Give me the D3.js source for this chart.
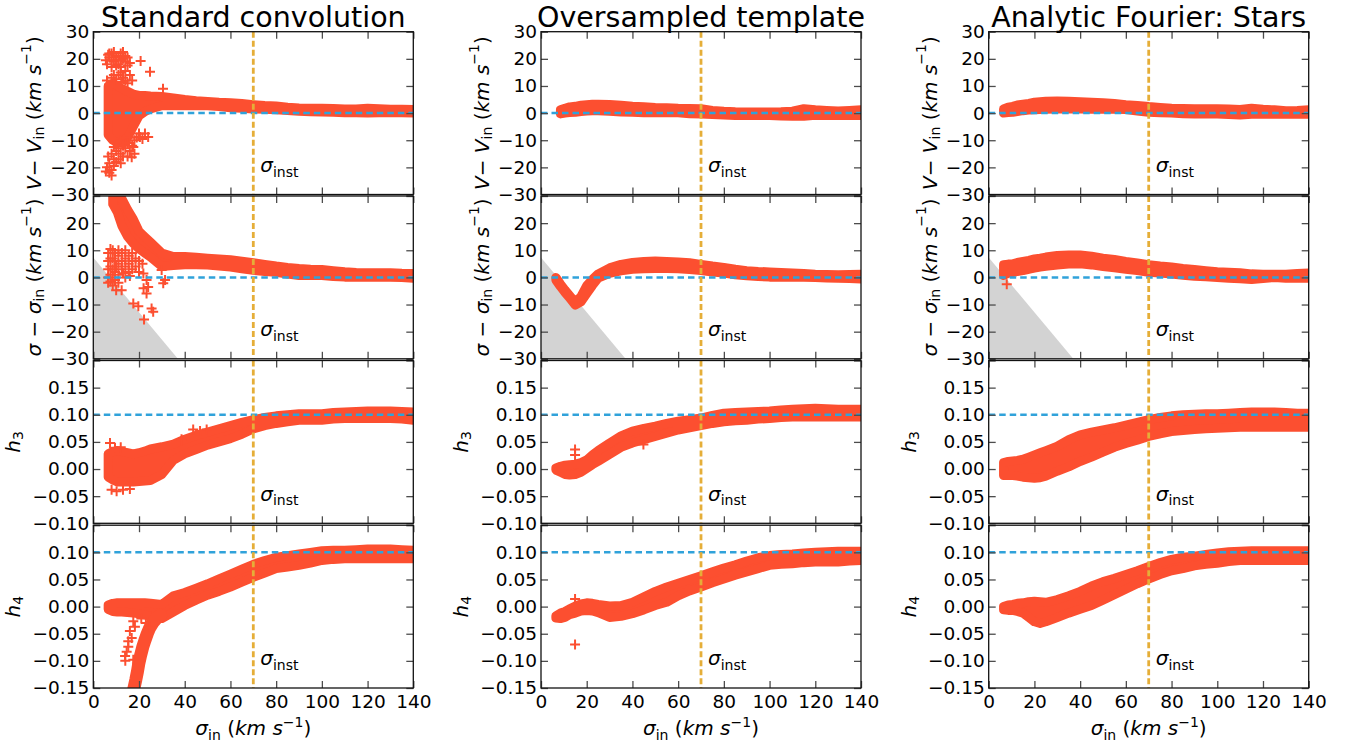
<!DOCTYPE html>
<html>
<head>
<meta charset="utf-8">
<script src="https://cdn.jsdelivr.net/npm/d3@7"></script>
<style>
body { margin: 0; background: #fff; }
svg text { font-family: "DejaVu Sans", sans-serif; fill: #000; }
</style>
</head>
<body>
<svg id="canvas"></svg>
<script>
// ########## Data ##########
var sigmaGrid = [6.5, 8.5, 10.5, 12.5, 15, 17.5, 20, 22.5, 25, 30, 35, 40, 45, 50, 55, 60, 65, 70, 75, 80, 85, 90, 95, 100, 105, 110, 115, 120, 125, 130, 135, 140];

// Standard convolution
var stdVelHi = [10, 11, 10, 9, 8, 7, 6.5, 6.5, 6.3, 6.1, 5.6, 5.0, 4.6, 4.3, 4.0, 3.8, 3.5, 3.1, 2.8, 2.6, 2.2, 1.9, 1.8, 1.8, 1.7, 1.5, 1.5, 1.8, 1.6, 1.4, 1.4, 1.3];
var stdVelLo = [-8, -10, -11, -11, -9, -5, -1, 0.5, 1.5, 2.7, 2.7, 2.7, 2.7, 2.7, 2.4, 2.0, 1.8, 1.5, 1.4, 1.2, 1.0, 0.7, 0.5, 0.4, 0.3, 0.1, 0.1, 0.0, 0.1, 0.1, 0.1, 0.0];
var stdSigHi = [null, 35, 33, 29, 25, 21.5, 17, 15, 13, 9, 7.7, 7.7, 7.4, 7.1, 6.8, 6.5, 6.0, 5.4, 4.8, 4.2, 3.7, 3.3, 3.0, 2.9, 2.5, 2.1, 1.8, 1.7, 1.7, 1.7, 1.5, 1.4];
var stdSigLo = [null, 27, 24, 19, 15, 12.5, 10.5, 9, 7.5, 4, 4.4, 4.7, 4.7, 4.6, 4.2, 3.8, 3.2, 2.6, 2.2, 1.9, 1.2, 0.7, 0.7, 0.7, 0.3, 0.1, 0.1, 0.1, 0.1, 0.1, 0.0, -0.3];
var stdH3Hi = [0.028, 0.032, 0.034, 0.032, 0.030, 0.028, 0.030, 0.033, 0.037, 0.041, 0.046, 0.055, 0.062, 0.068, 0.074, 0.080, 0.086, 0.091, 0.095, 0.098, 0.100, 0.102, 0.102, 0.102, 0.104, 0.105, 0.106, 0.107, 0.107, 0.107, 0.106, 0.105];
var stdH3Lo = [-0.015, -0.020, -0.024, -0.024, -0.024, -0.024, -0.023, -0.022, -0.021, -0.010, 0.016, 0.028, 0.036, 0.044, 0.050, 0.056, 0.064, 0.074, 0.080, 0.084, 0.087, 0.090, 0.090, 0.090, 0.092, 0.093, 0.093, 0.093, 0.093, 0.093, 0.092, 0.090];
var stdH4Hi = [0.003, 0.006, 0.007, 0.007, 0.007, 0.007, 0.007, 0.007, 0.006, 0.004, 0.020, 0.026, 0.034, 0.042, 0.051, 0.060, 0.069, 0.078, 0.085, 0.091, 0.094, 0.097, 0.100, 0.103, 0.104, 0.104, 0.105, 0.106, 0.106, 0.106, 0.105, 0.104];
var stdH4Lo = [-0.005, -0.009, -0.010, -0.010, -0.011, -0.012, -0.013, -0.015, -0.018, -0.022, -0.010, 0.002, 0.012, 0.021, 0.028, 0.036, 0.045, 0.054, 0.062, 0.070, 0.073, 0.076, 0.080, 0.085, 0.087, 0.088, 0.088, 0.088, 0.088, 0.088, 0.088, 0.088];

// Oversampled template
var ovsVelHi = [null, 1.2, 1.8, 2.3, 2.5, 2.9, 3.1, 3.3, 3.3, 3.2, 2.9, 2.5, 2.3, 2.1, 2.0, 1.8, 1.7, 1.6, 1.0, 0.7, 0.5, 0.4, 0.4, 0.4, 0.5, 0.7, 1.6, 1.2, 1.0, 0.8, 1.0, 1.2];
var ovsVelLo = [null, -0.3, 0.0, 0.2, 0.3, 0.6, 0.8, 0.9, 0.9, 0.7, 0.4, 0.3, 0.1, 0.1, 0.1, 0.1, -0.2, -0.3, -0.5, -0.7, -0.9, -0.9, -0.9, -0.9, -1.1, -1.2, -1.2, -0.8, -0.9, -0.9, -0.9, -0.9];
var ovsSigHi = [0.0, -2.4, -4.6, -6.6, -9.2, -7.0, -3.0, -0.7, 1.3, 3.5, 4.8, 5.5, 5.9, 6.0, 5.9, 5.7, 5.4, 4.8, 4.2, 3.7, 3.0, 2.5, 2.2, 2.0, 1.8, 1.6, 1.4, 1.2, 1.1, 1.0, 1.1, 1.2];
var ovsSigLo = [-1.0, -3.4, -5.6, -7.6, -10.2, -9.0, -6.0, -3.0, -0.3, 1.5, 2.4, 3.0, 3.2, 3.3, 3.3, 3.2, 2.9, 2.5, 2.0, 1.6, 1.0, 0.6, 0.3, 0.1, 0.1, 0.1, 0.1, 0.0, -0.2, -0.3, -0.4, -0.6];
var ovsH3Hi = [0.002, 0.005, 0.007, 0.008, 0.009, 0.012, 0.017, 0.026, 0.034, 0.048, 0.061, 0.070, 0.075, 0.079, 0.084, 0.088, 0.091, 0.094, 0.099, 0.103, 0.104, 0.105, 0.106, 0.107, 0.109, 0.110, 0.111, 0.112, 0.111, 0.110, 0.110, 0.110];
var ovsH3Lo = [-0.002, -0.006, -0.010, -0.011, -0.010, -0.006, 0.001, 0.008, 0.014, 0.027, 0.040, 0.048, 0.054, 0.060, 0.066, 0.072, 0.076, 0.080, 0.084, 0.087, 0.089, 0.090, 0.092, 0.093, 0.095, 0.096, 0.096, 0.096, 0.096, 0.096, 0.096, 0.096];
var ovsH4Hi = [-0.017, -0.012, -0.009, -0.004, 0.001, 0.005, 0.007, 0.006, 0.004, 0.001, 0.002, 0.008, 0.018, 0.028, 0.036, 0.043, 0.050, 0.057, 0.064, 0.071, 0.077, 0.084, 0.090, 0.094, 0.096, 0.097, 0.099, 0.100, 0.101, 0.102, 0.102, 0.102];
var ovsH4Lo = [-0.021, -0.022, -0.020, -0.015, -0.012, -0.008, -0.007, -0.008, -0.011, -0.020, -0.018, -0.013, -0.006, 0.002, 0.008, 0.020, 0.029, 0.036, 0.044, 0.051, 0.058, 0.064, 0.070, 0.076, 0.078, 0.079, 0.081, 0.082, 0.082, 0.082, 0.084, 0.085];

// Analytic Fourier: Stars
var anaVelHi = [1.5, 2.2, 2.5, 3.0, 3.3, 3.6, 4.0, 4.2, 4.4, 4.5, 4.4, 4.2, 4.0, 3.8, 3.5, 3.1, 2.8, 2.4, 2.1, 1.8, 1.7, 1.6, 1.6, 1.6, 1.5, 1.3, 1.8, 1.4, 1.2, 0.9, 1.0, 1.2];
var anaVelLo = [0.0, 0.2, 0.3, 0.6, 0.9, 1.1, 1.2, 1.3, 1.4, 1.5, 1.6, 1.5, 1.4, 1.5, 1.4, 1.3, 0.8, 0.3, 0.1, 0.0, -0.2, -0.3, -0.3, -0.3, -0.5, -0.7, -0.4, -0.4, -0.4, -0.4, -0.4, -0.4];
var anaSigHi = [4.7, 4.9, 5.0, 5.5, 5.9, 6.3, 6.8, 7.1, 7.5, 8.1, 8.3, 8.3, 7.8, 7.1, 6.6, 5.9, 5.3, 4.7, 4.2, 3.8, 3.3, 2.9, 2.5, 2.1, 1.9, 1.7, 1.3, 1.2, 1.2, 1.2, 1.4, 1.6];
var anaSigLo = [0.7, 1.5, 1.8, 2.2, 2.5, 3.0, 3.4, 3.8, 4.1, 4.6, 4.9, 5.0, 4.6, 4.0, 3.5, 3.0, 2.5, 1.9, 1.6, 1.2, 0.8, 0.4, 0.2, 0.0, -0.3, -0.5, -0.8, -0.4, 0.0, -0.3, -0.3, -0.3];
var anaH3Hi = [0.012, 0.014, 0.015, 0.016, 0.018, 0.022, 0.026, 0.030, 0.034, 0.042, 0.054, 0.063, 0.068, 0.072, 0.076, 0.081, 0.086, 0.091, 0.095, 0.098, 0.100, 0.101, 0.102, 0.102, 0.103, 0.104, 0.105, 0.105, 0.105, 0.104, 0.103, 0.103];
var anaH3Lo = [-0.012, -0.012, -0.012, -0.013, -0.015, -0.016, -0.017, -0.016, -0.013, -0.004, 0.004, 0.014, 0.022, 0.031, 0.040, 0.047, 0.053, 0.060, 0.065, 0.069, 0.071, 0.073, 0.074, 0.075, 0.076, 0.077, 0.077, 0.077, 0.077, 0.077, 0.077, 0.077];
var anaH4Hi = [0.000, 0.003, 0.004, 0.006, 0.007, 0.009, 0.010, 0.009, 0.008, 0.013, 0.020, 0.028, 0.038, 0.046, 0.052, 0.059, 0.066, 0.074, 0.081, 0.087, 0.091, 0.093, 0.096, 0.099, 0.101, 0.102, 0.103, 0.103, 0.103, 0.103, 0.103, 0.103];
var anaH4Lo = [-0.006, -0.007, -0.007, -0.009, -0.012, -0.020, -0.028, -0.031, -0.028, -0.020, -0.012, -0.005, 0.002, 0.012, 0.022, 0.032, 0.042, 0.051, 0.059, 0.066, 0.070, 0.075, 0.078, 0.080, 0.083, 0.085, 0.085, 0.085, 0.085, 0.085, 0.085, 0.085];

// loose points outside the main bands [sigma_in, value]
var stdVelPts = [[6, 18], [7, 20.5], [8, 22], [9, 19], [10, 21], [11, 18], [12, 22], [13, 20], [14, 19], [8, 17], [10, 17.5], [12, 17], [15, 17.5], [16, 18.5], [7, 22], [11, 20.5], [9, 22.5], [13, 22.5], [5.5, 19.5], [6.5, 21.5], [14, 21], [12, 19.5], [10, 19.5], [8, 19.5], [15, 20.5],
    [12, 15], [13, 13], [14, 12], [15, 11], [16, 14], [17, 12], [11, 14], [10, 12.5], [8, 13], [6, 12], [14, 15.5], [12.5, 11.5], [9, 14],
    [20.7, 19.2], [24.8, 15.2], [30.5, 9],
    [6, -20], [7, -22], [8, -21], [9, -19.5], [10, -18], [11, -17], [7, -18.5], [5.5, -21.5], [8, -23], [12, -18.5], [9, -17], [6.5, -16], [8, -15],
    [10, -14], [11.7, -10], [12, -15], [13, -16], [13.9, -11.5], [14, -13], [15, -11], [16, -14], [17, -12], [17.5, -12.5], [18, -15], [16.8, -16.3], [19, -9], [20.4, -8.8], [21.5, -9.5], [22.6, -7.5], [24, -8.8], [18, -10], [13, -12], [11, -13], [15, -16], [20, -7.5], [9, -12.5], [16, -9]];
var stdSigPts = [[6.5, 9], [6.5, 6], [6.5, 3], [6.5, 0], [6.5, -2], [7.5, 10.5], [7.5, 7], [7.5, 4], [7.5, 1], [7.5, -1.5], [8.5, 10], [8.5, 7], [8.5, 3], [8.5, 0], [8.5, -3],
    [9.5, 9], [9.5, 6], [9.5, 2], [9.5, -1], [11, 10], [11, 8], [11, 5], [11, 1], [11, -2], [12.5, 9], [12.5, 6], [12.5, 3], [14, 10], [14, 7], [14, 4], [14, 0],
    [15.5, 8], [15.5, 5], [15.5, 2], [17, 9], [17, 6], [17, 3], [18.5, 7], [18.5, 4], [20, 6], [20, 2], [21.5, 5], [21.9, 1.4], [10, 4], [13, 1.5], [16, 0.5],
    [10, -4.7], [12.4, -4.7], [17.5, -9.6], [19.7, -10.6], [22.2, -15.5], [25.5, -11.5], [26.2, -12.7], [23.3, -5.9], [24, -3.5], [23.3, -1], [30.6, -2.2], [31.4, -1], [29.9, 2.7], [22, -4]];
var stdH3Pts = [[7.3, 0.048], [9.5, 0.039], [8, -0.038], [10.2, -0.041], [13, -0.038], [16, -0.037], [38.6, 0.055], [43.7, 0.073], [46.7, 0.07], [49.6, 0.073], [12, 0.04]];
// steep lower branch of h4 (centre line) plus stray points
var stdH4Branch = [[17.3, -0.16], [17.8, -0.15], [18.6, -0.135], [19.3, -0.12], [19.9, -0.105], [20.7, -0.09], [21.6, -0.075], [22.6, -0.062], [23.6, -0.05], [24.6, -0.04], [26, -0.03], [27.6, -0.022], [29.5, -0.016]];
var stdH4Pts = [[17.5, -0.027], [18.2, -0.037], [16.8, -0.058], [15.3, -0.064], [15.3, -0.074], [13.9, -0.091], [14.6, -0.083], [17.5, -0.098], [21, -0.022], [23, -0.03], [24.5, -0.038], [16, -0.045], [14, -0.1]];
var ovsH3Pts = [[14.9, 0.036], [14.9, 0.026], [44.8, 0.045]];
var ovsH4Pts = [[14.9, 0.014], [14.9, -0.07]];
var anaSigPts = [[7.9, -2.5]];

// axes setup
var titles = ["Standard convolution", "Oversampled template", "Analytic Fourier: Stars"];
var rowDomains = [[-30, 30], [-30, 30], [-0.1, 0.2], [-0.15, 0.15]];
var rowTickVals = [[-30, -20, -10, 0, 10, 20, 30], [-30, -20, -10, 0, 10, 20, 30], [-0.1, -0.05, 0, 0.05, 0.1, 0.15, 0.2], [-0.15, -0.1, -0.05, 0, 0.05, 0.1, 0.15]];
var rowTopLabelled = [true, false, false, false];
var refLevels = [0, 0, 0.1, 0.1];
var xTickVals = [0, 20, 40, 60, 80, 100, 120, 140];
var sigmaInst = 70;
var floorX = [0, 37, 0];
var floorY = [7.3, -30, -30];

var panels = [
    { col: 0, row: 0, hi: stdVelHi, lo: stdVelLo, pts: stdVelPts },
    { col: 0, row: 1, hi: stdSigHi, lo: stdSigLo, pts: stdSigPts },
    { col: 0, row: 2, hi: stdH3Hi, lo: stdH3Lo, pts: stdH3Pts },
    { col: 0, row: 3, hi: stdH4Hi, lo: stdH4Lo, pts: stdH4Pts, branch: stdH4Branch },
    { col: 1, row: 0, hi: ovsVelHi, lo: ovsVelLo, pts: [] },
    { col: 1, row: 1, hi: ovsSigHi, lo: ovsSigLo, pts: [] },
    { col: 1, row: 2, hi: ovsH3Hi, lo: ovsH3Lo, pts: ovsH3Pts },
    { col: 1, row: 3, hi: ovsH4Hi, lo: ovsH4Lo, pts: ovsH4Pts },
    { col: 2, row: 0, hi: anaVelHi, lo: anaVelLo, pts: [] },
    { col: 2, row: 1, hi: anaSigHi, lo: anaSigLo, pts: anaSigPts },
    { col: 2, row: 2, hi: anaH3Hi, lo: anaH3Lo, pts: [] },
    { col: 2, row: 3, hi: anaH4Hi, lo: anaH4Lo, pts: [] }
];

// ########## Layout ##########
var w = 1349, h = 746;
var colLeft = [93.3, 541, 988.7], panelW = 320;
var rowTop = [31.7, 196, 360.5, 525.2], panelH = 162.8;
var red = "#fc4f30", blue = "#30a2da", gold = "#e5ae38";

var svg = d3.select("#canvas").attr("width", w).attr("height", h);

// small mathtext-like helper: parts = [{t, it, sub, sup}]
function mathText(sel, parts, size) {
    var shift = 0;
    parts.forEach(function (p) {
        var ts = sel.append("tspan").text(p.t);
        var target = p.sub ? size * 0.24 : (p.sup ? -size * 0.42 : 0);
        ts.attr("dy", target - shift);
        shift = target;
        if (p.it) ts.attr("font-style", "italic");
        if (p.sub || p.sup) ts.attr("font-size", size * 0.7);
    });
}

var unitParts = [{ t: " (" }, { t: "km s", it: true }, { t: "\u22121", sup: true }, { t: ")" }];
var yLabels = [
    [{ t: "V", it: true }, { t: "\u2212 " }, { t: "V", it: true }, { t: "in", sub: true }].concat(unitParts),
    [{ t: "\u03c3", it: true }, { t: " \u2212 " }, { t: "\u03c3", it: true }, { t: "in", sub: true }].concat(unitParts),
    [{ t: "h", it: true }, { t: "3", sub: true }],
    [{ t: "h", it: true }, { t: "4", sub: true }]
];
var yLabelOffset = [59, 59, 80, 80];

var defs = svg.append("defs");

panels.forEach(function (p, k) {
    var left = colLeft[p.col], top = rowTop[p.row];
    var x = d3.scaleLinear().domain([0, 140]).range([left, left + panelW]);
    var y = d3.scaleLinear().domain(rowDomains[p.row]).range([top + panelH, top]);
    var g = svg.append("g").attr("class", "panel");

    defs.append("clipPath").attr("id", "clip" + k)
        .append("rect").attr("x", left).attr("y", top).attr("width", panelW).attr("height", panelH);
    var plot = g.append("g").attr("clip-path", "url(#clip" + k + ")");

    // grey forbidden region in the dispersion row
    if (p.row === 1) {
        plot.append("path")
            .attr("d", d3.line().x(function (i) { return x(floorX[i]); }).y(function (i) { return y(floorY[i]); })(d3.range(floorX.length)) + "Z")
            .attr("fill", "#d3d3d3");
    }

    // dense cloud of '+' markers
    var idx = d3.range(sigmaGrid.length);
    var band = d3.area()
        .defined(function (i) { return p.hi[i] !== null; })
        .x(function (i) { return x(sigmaGrid[i]); })
        .y0(function (i) { return y(p.lo[i]); })
        .y1(function (i) { return y(p.hi[i]); });
    plot.append("path")
        .attr("d", band(idx))
        .attr("fill", red)
        .attr("stroke", red)
        .attr("stroke-width", 9)
        .attr("stroke-linejoin", "round");

    if (p.branch) {
        plot.append("path")
            .attr("d", d3.line().x(function (d) { return x(d[0]); }).y(function (d) { return y(d[1]); })(p.branch))
            .attr("fill", "none")
            .attr("stroke", red)
            .attr("stroke-width", 13)
            .attr("stroke-linejoin", "round")
            .attr("stroke-linecap", "round");
    }

    plot.selectAll(".pt")
        .data(p.pts).enter()
        .append("path")
        .attr("class", "pt")
        .attr("transform", function (d) { return "translate(" + x(d[0]) + "," + y(d[1]) + ")"; })
        .attr("d", "M-5,0H5M0,-5V5")
        .attr("stroke", red)
        .attr("stroke-width", 2);

    // reference lines
    plot.append("line")
        .attr("x1", x(0)).attr("x2", x(140))
        .attr("y1", y(refLevels[p.row])).attr("y2", y(refLevels[p.row]))
        .attr("stroke", blue).attr("stroke-width", 2.5).attr("stroke-dasharray", "6.5,4");
    plot.append("line")
        .attr("x1", x(sigmaInst)).attr("x2", x(sigmaInst))
        .attr("y1", top).attr("y2", top + panelH)
        .attr("stroke", gold).attr("stroke-width", 2.8).attr("stroke-dasharray", "6,3");

    var inst = g.append("text")
        .attr("x", x(sigmaInst) + 7)
        .attr("y", top + panelH * 0.86)
        .attr("font-size", 20);
    mathText(inst, [{ t: "\u03c3", it: true }, { t: "inst", sub: true }], 20);

    // ########## Axes ##########
    var fmt = p.row < 2 ? d3.format("d") : d3.format(".2f");
    var topVal = rowDomains[p.row][1];
    var yAxis = d3.axisLeft(y).tickValues(rowTickVals[p.row]).tickSize(-7).tickPadding(4)
        .tickFormat(function (d) { return (d === topVal && !rowTopLabelled[p.row]) ? "" : fmt(d); });
    var xBottom = d3.axisBottom(x).tickValues(xTickVals).tickSize(-7).tickPadding(7)
        .tickFormat(p.row === 3 ? d3.format("d") : "");
    var axes = [
        g.append("g").attr("transform", "translate(" + left + ",0)").call(yAxis),
        g.append("g").attr("transform", "translate(" + (left + panelW) + ",0)")
            .call(d3.axisRight(y).tickValues(rowTickVals[p.row]).tickSize(-7).tickFormat("")),
        g.append("g").attr("transform", "translate(0," + top + ")")
            .call(d3.axisTop(x).tickValues(xTickVals).tickSize(-7).tickFormat("")),
        g.append("g").attr("transform", "translate(0," + (top + panelH) + ")").call(xBottom)
    ];
    axes.forEach(function (a) {
        a.select(".domain").remove();
        a.selectAll(".tick line").attr("stroke", "#4d4d4d").attr("stroke-width", 1.3);
        a.selectAll(".tick text").attr("font-size", 18.5).attr("font-family", "DejaVu Sans").attr("fill", "#000");
    });

    g.append("rect")
        .attr("x", left).attr("y", top).attr("width", panelW).attr("height", panelH)
        .attr("fill", "none").attr("stroke", "#111").attr("stroke-width", 1.3);

    // ########## Labels ##########
    var cy = top + panelH / 2;
    var yl = g.append("text")
        .attr("transform", "translate(" + (left - yLabelOffset[p.row]) + "," + cy + ") rotate(-90)")
        .attr("text-anchor", "middle")
        .attr("dominant-baseline", "central")
        .attr("font-size", 20);
    mathText(yl, yLabels[p.row], 20);

    if (p.row === 0) {
        g.append("text")
            .attr("x", left + panelW / 2).attr("y", 27)
            .attr("text-anchor", "middle")
            .attr("font-size", 28.5)
            .text(titles[p.col]);
    }
    if (p.row === 3) {
        var xl = g.append("text")
            .attr("x", left + panelW / 2).attr("y", 735)
            .attr("text-anchor", "middle")
            .attr("font-size", 20);
        mathText(xl, [{ t: "\u03c3", it: true }, { t: "in", sub: true }].concat(unitParts), 20);
    }
});
</script>
</body>
</html>
